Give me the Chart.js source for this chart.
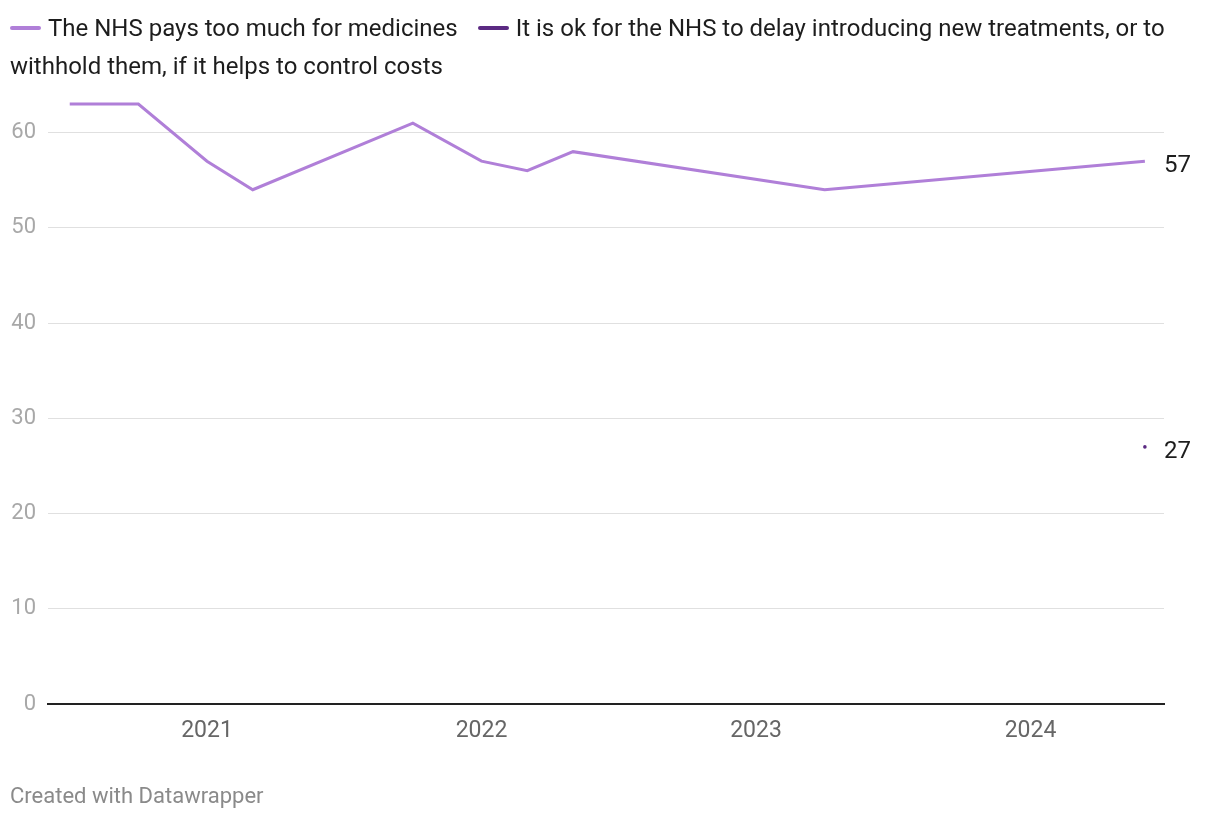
<!DOCTYPE html>
<html>
<head>
<meta charset="utf-8">
<script src="https://cdn.jsdelivr.net/npm/chart.js@4/dist/chart.umd.min.js"></script>
<style>
  body { margin: 0; background: #fff; font-family: Roboto, sans-serif; }
  #wrap { position: relative; width: 1220px; height: 820px; }
  #legend { position: absolute; left: 10px; top: 9px; width: 1178px; font-size: 24px; line-height: 38px; color: #1d1d1d; }
  .key { display: inline-block; width: 31px; height: 4px; border-radius: 2px; vertical-align: middle; margin-right: 7px; position: relative; top: -2px; }
  .item { margin-right: 20px; }
  #footer { position: absolute; left: 10px; top: 783px; font-size: 22px; color: #8a8a8a; }
  canvas { position: absolute; left: 0; top: 0; }
</style>
</head>
<body>
<div id="wrap">
  <canvas id="nhsChart" width="1220" height="820"></canvas>
  <div id="legend"></div>
  <div id="footer">Created with Datawrapper</div>
</div>
<script>
const dates = ['2020-07', '2020-10', '2021-01', '2021-03', '2021-10', '2022-01', '2022-03', '2022-05', '2023-04', '2024-06'];
const paysTooMuch = [63, 63, 57, 54, 61, 57, 56, 58, 54, 57];
const okToDelay = [null, null, null, null, null, null, null, null, null, 27];
const seriesNames = ['The NHS pays too much for medicines', 'It is ok for the NHS to delay introducing new treatments, or to withhold them, if it helps to control costs'];
const seriesColors = ['#b07fd8', '#5b2a82'];
const yearTicks = [2021, 2022, 2023, 2024];

// decimal years for the linear x axis (no date adapter available)
const toYear = (d) => {
    const [y, m] = d.split('-').map(Number);
    return y + (m - 1) / 12;
};

const xs = dates.map(toYear);
const pts = (vals) => vals.map((v, i) => ({x: xs[i], y: v}));

// html legend, so the long label can wrap like the original
const legend = document.getElementById('legend');
seriesNames.forEach((name, i) => {
    const span = document.createElement('span');
    span.className = 'item';
    span.innerHTML = '<span class="key" style="background:' + seriesColors[i] + '"></span>' + name;
    legend.appendChild(span);
});

const endLabels = {
    id: 'endLabels',
    afterDatasetsDraw(chart) {
        const ctx = chart.ctx;
        ctx.save();
        ctx.font = '24px Roboto';
        ctx.fillStyle = '#1d1d1d';
        ctx.textBaseline = 'middle';
        chart.data.datasets.forEach((ds, i) => {
            const meta = chart.getDatasetMeta(i);
            for (let j = ds.data.length - 1; j >= 0; j--) {
                if (ds.data[j].y !== null) {
                    const el = meta.data[j];
                    ctx.fillText(String(ds.data[j].y), chart.chartArea.right, el.y + 5);
                    break;
                }
            }
        });
        ctx.restore();
    }
};

new Chart(document.getElementById('nhsChart'), {
    type: 'line',
    data: {
        datasets: [{
            label: seriesNames[0],
            data: pts(paysTooMuch),
            borderColor: seriesColors[0],
            backgroundColor: seriesColors[0],
            borderWidth: 3,
            pointRadius: 0,
            tension: 0
        },
        {
            label: seriesNames[1],
            data: pts(okToDelay),
            borderColor: seriesColors[1],
            backgroundColor: seriesColors[1],
            borderWidth: 3,
            pointRadius: 1.8,
            pointBorderWidth: 0
        }]
    },
    options: {
        responsive: false,
        animation: false,
        layout: { padding: { top: 85, right: 56, bottom: 66, left: 0 } },
        plugins: { legend: { display: false }, tooltip: { enabled: false } },
        scales: {
            x: {
                type: 'linear',
                min: 2020.4208,
                max: 2024.4863,
                afterBuildTicks: (scale) => { scale.ticks = yearTicks.map((v) => ({value: v})); },
                afterFit: (scale) => { scale.height = 50; },
                grid: { display: false, drawTicks: false },
                border: { display: true, color: '#222', width: 2 },
                ticks: { color: '#666', font: { family: 'Roboto', size: 23 }, padding: 13, callback: (v) => String(v) }
            },
            y: {
                min: 0,
                max: 65,
                afterBuildTicks: (scale) => { scale.ticks = scale.ticks.filter((t) => t.value % 10 === 0); },
                afterFit: (scale) => { scale.width = 48; },
                grid: { color: '#e0e0e0', lineWidth: 1, drawTicks: false },
                border: { display: false },
                ticks: { stepSize: 10, color: '#a8a8a8', font: { family: 'Roboto', size: 22 }, padding: 12 }
            }
        }
    },
    plugins: [endLabels]
});
</script>
</body>
</html>
